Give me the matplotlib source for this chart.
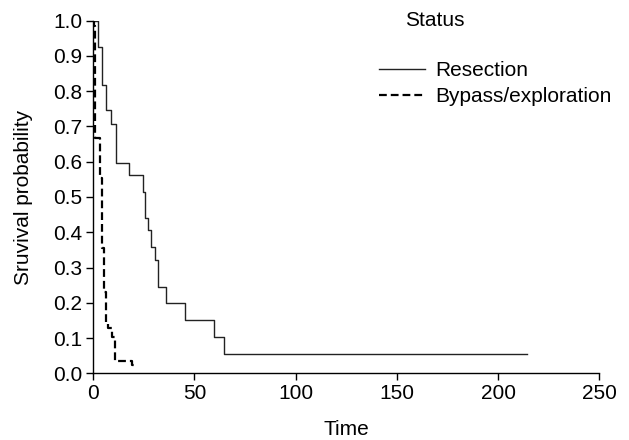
import matplotlib
matplotlib.use("Agg")
import matplotlib.pyplot as plt

plt.rcParams['font.family'] = ['Liberation Sans', 'DejaVu Sans']

# Resection (solid)
res_t = [0, 2.5, 4.5, 6.3, 8.7, 11.2, 17.6, 24.4, 25.7, 27.0, 28.5, 30.5, 31.8, 35.9, 45.2, 59.8, 64.6, 214.3]
res_p = [1.0, 0.926, 0.819, 0.747, 0.707, 0.596, 0.562, 0.515, 0.44, 0.405, 0.357, 0.321, 0.244, 0.2, 0.151, 0.104, 0.055, 0.055]

# Bypass/exploration (dashed)
byp_t = [0, 0.3, 1.0, 3.3, 4.3, 5.3, 6.1, 7.4, 9.1, 10.6, 19.0, 20.3]
byp_p = [1.0, 0.984, 0.666, 0.553, 0.355, 0.231, 0.146, 0.128, 0.102, 0.035, 0.024, 0.024]

xticks = [0, 50, 100, 150, 200, 250]
yticks = [0.0, 0.1, 0.2, 0.3, 0.4, 0.5, 0.6, 0.7, 0.8, 0.9, 1.0]

FS = 15

fig = plt.figure(figsize=(6.29, 4.40), dpi=100)
ax = fig.add_axes([0.1483, 0.1516, 0.8045, 0.8014])

ax.step(res_t, res_p, where='post', color='#222222', lw=1.0, label='Resection')
ax.step(byp_t, byp_p, where='post', color='black', lw=1.6, linestyle=(0, (3.5, 1.8)),
        label='Bypass/exploration')

ax.set_xlim(0, 250)
ax.set_ylim(0, 1.0)
ax.set_xticks(xticks)
ax.set_yticks(yticks)
ax.set_yticklabels([f"{v:.1f}" for v in yticks])
for s in ['top', 'right']:
    ax.spines[s].set_visible(False)
for s in ['left', 'bottom']:
    ax.spines[s].set_linewidth(1.0)
ax.tick_params(direction='out', length=5, width=1, labelsize=FS, pad=3)

ax.set_xlabel('Time', fontsize=FS, labelpad=12)
ax.set_ylabel('Sruvival probability', fontsize=FS, labelpad=14)

fig.text(435/629, 1 - 20/440, 'Status', ha='center', va='center', fontsize=FS)
leg = ax.legend(loc='upper left', bbox_to_anchor=(379/629, 1 - 61/440),
                bbox_transform=fig.transFigure,
                frameon=False, fontsize=FS, handlelength=2.2, handletextpad=0.5,
                labelspacing=0.35, borderaxespad=0, borderpad=0)

fig.savefig('out.png', dpi=100)
